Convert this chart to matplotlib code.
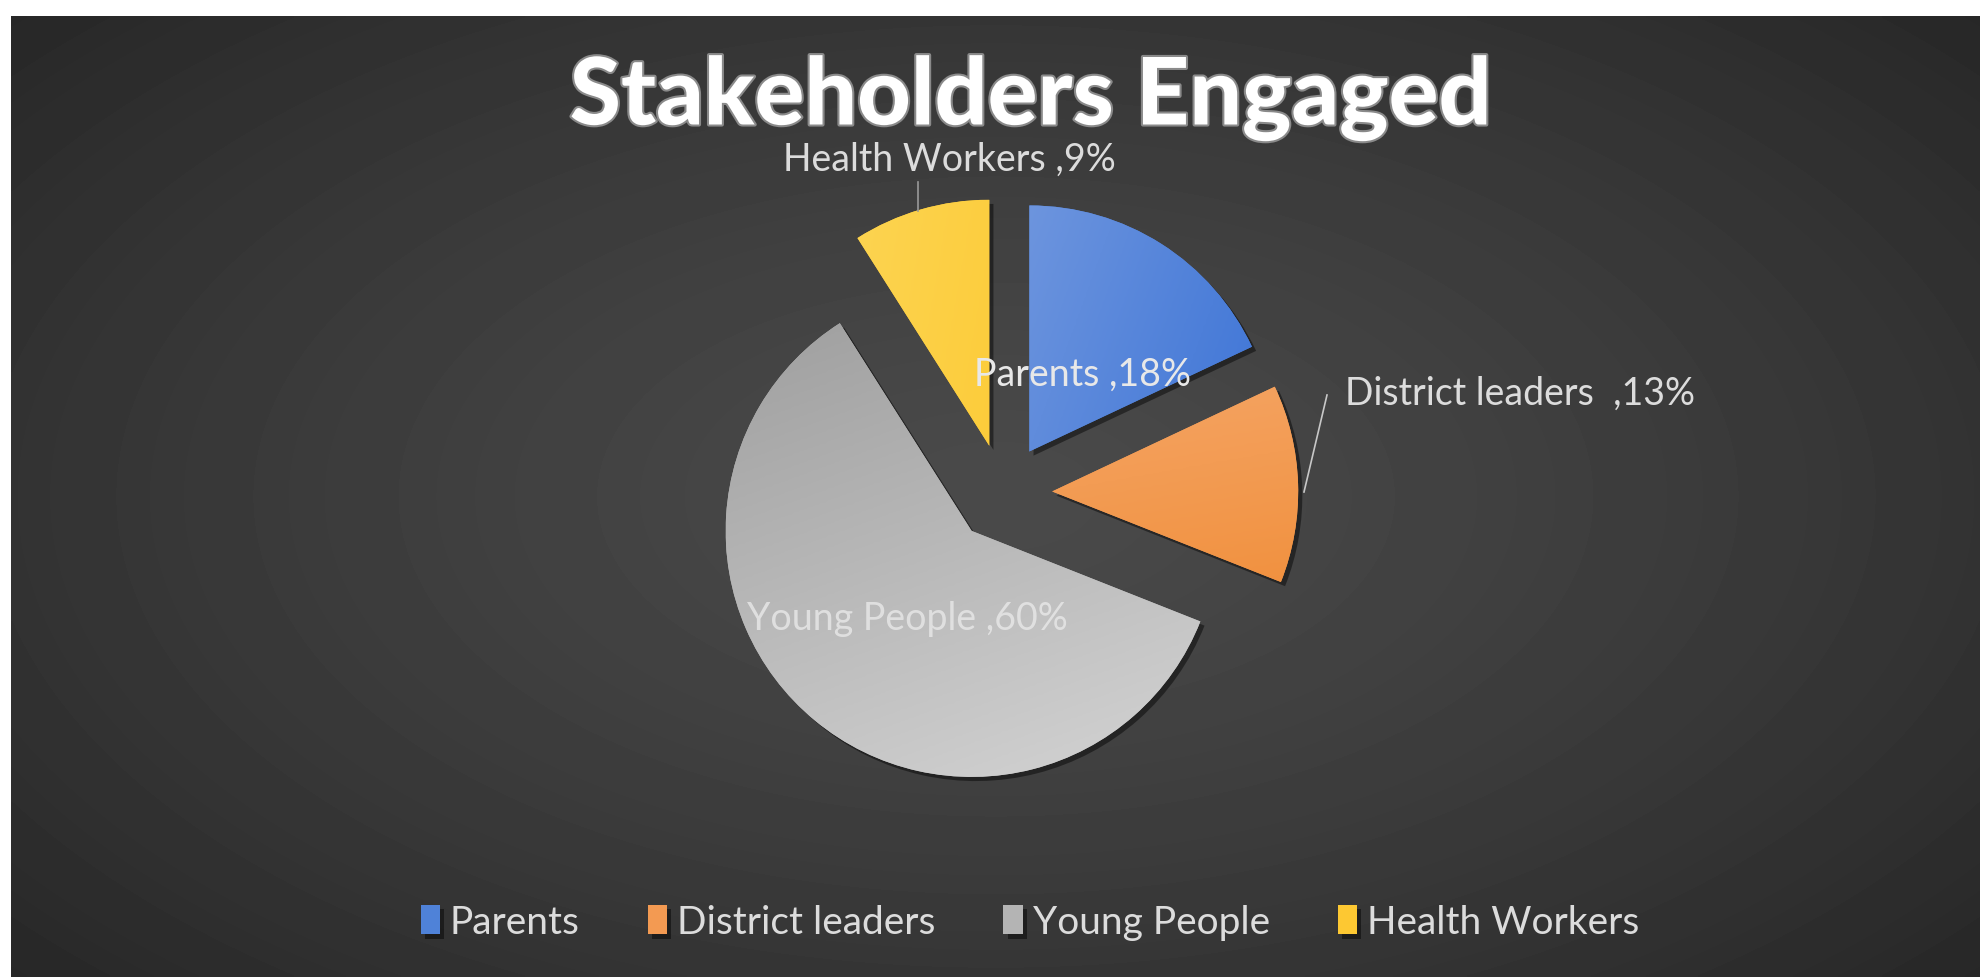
import numpy as np
import matplotlib
matplotlib.use('Agg')
import matplotlib.pyplot as plt
from matplotlib import patheffects as pe
from matplotlib.colors import LinearSegmentedColormap
from matplotlib.lines import Line2D

# ---- data ----
categories = ['Parents', 'District leaders', 'Young People', 'Health Workers']
values = [18, 13, 60, 9]
label_texts = ['Parents ,18%', 'District leaders  ,13%', 'Young People ,60%', 'Health Workers ,9%']
title_text = 'Stakeholders Engaged'

base_colors = ['#4f82d8', '#f39a52', '#b4b4b4', '#fdc832']
light_colors = ['#86a6e2', '#f6b07a', '#a2a2a2', '#fdd75a']
dark_colors = ['#3a72d6', '#f0882e', '#cecece', '#fcc21c']
grad_angles = [np.deg2rad(-20), np.deg2rad(-80), np.deg2rad(-70), np.deg2rad(-10)]

W, H = 1981, 978
fig = plt.figure(figsize=(W / 100, H / 100), dpi=100, facecolor='white')

# ---- background with vignette ----
bg = fig.add_axes([11 / W, 0, (W - 11) / W, (H - 17) / H])
ny, nx = 300, 600
yy, xx = np.mgrid[0:1:ny * 1j, 0:1:nx * 1j]
r = np.sqrt(((xx - 0.5) / 0.5) ** 2 + ((yy - 0.5) / 0.55) ** 2)
t = np.clip(r / 1.35, 0, 1)
val = 0.29 - (0.29 - 0.155) * t ** 1.3
bg.imshow(val, cmap='gray', vmin=0, vmax=1, extent=[0, 1, 0, 1], aspect='auto',
          interpolation='bilinear', origin='lower')
bg.axis('off')

# ---- pie ----
cxp, cyp, half = 1003, 494, 369
ax = fig.add_axes([(cxp - half) / W, (H - cyp - half) / H, 2 * half / W, 2 * half / H])
ax.patch.set_alpha(0)
wedges, _ = ax.pie(values, colors=base_colors, startangle=90, counterclock=False,
                   explode=[0.2] * len(values), radius=1,
                   wedgeprops=dict(linewidth=0))
for w, c0, c1, ang in zip(wedges, light_colors, dark_colors, grad_angles):
    w.set_path_effects([pe.SimplePatchShadow(offset=(3, -3), shadow_rgbFace='black', alpha=0.45),
                        pe.Normal()])
    cxw, cyw = w.center
    rr = w.r
    n = 200
    gy, gx = np.mgrid[-1:1:n * 1j, -1:1:n * 1j]
    d = gx * np.cos(ang) + gy * np.sin(ang)
    tt = (d + 1) / 2
    cmap = LinearSegmentedColormap.from_list('g', [c0, c1])
    im = ax.imshow(tt, cmap=cmap, vmin=0, vmax=1,
                   extent=[cxw - rr, cxw + rr, cyw - rr, cyw + rr], origin='lower',
                   interpolation='bilinear', zorder=w.get_zorder() + 0.1)
    im.set_clip_path(w)
ax.set_xlim(-1.5, 1.5)
ax.set_ylim(-1.5, 1.5)
ax.set_aspect('equal')
ax.axis('off')

label_font = ['Lato', 'DejaVu Sans']
txt_color = '#dcdcdc'
fs = 27

# ---- data labels ----
fig.text(1083 / W, 1 - 375 / H, label_texts[0], ha='center', va='center', fontsize=fs,
         family=label_font, color='#e8e8e8')
fig.text(1345 / W, 1 - 394 / H, label_texts[1], ha='left', va='center', fontsize=fs,
         family=label_font, color=txt_color)
fig.text(907 / W, 1 - 619 / H, label_texts[2], ha='center', va='center', fontsize=fs,
         family=label_font, color='#e6e6e6', alpha=0.85)
fig.text(949 / W, 1 - 160 / H, label_texts[3], ha='center', va='center', fontsize=fs,
         family=label_font, color=txt_color)

# leader lines
fig.add_artist(Line2D([918 / W, 918 / W], [1 - 183 / H, 1 - 212 / H], transform=fig.transFigure,
                      color='#9a9a9a', lw=1.2))
fig.add_artist(Line2D([1327 / W, 1304 / W], [1 - 396 / H, 1 - 493 / H], transform=fig.transFigure,
                      color='#c8c8c8', lw=1.2))

# ---- title ----
fig.text(1030 / W, 1 - 99 / H, title_text, ha='center', va='center', fontsize=67,
         fontweight='black', family=['Lato', 'DejaVu Sans'], color='white',
         path_effects=[pe.withStroke(linewidth=3, foreground='#8a8a8a')])

# ---- legend ----
leg = fig.legend(wedges, categories, loc='center', bbox_to_anchor=(1030 / W, 1 - 923 / H),
                 ncol=4, frameon=False, handlelength=0.5, handleheight=0.8,
                 handletextpad=0.25, columnspacing=1.75,
                 prop={'family': label_font, 'size': 28}, labelcolor=txt_color)

fig.savefig('out.png', dpi=100, facecolor='white')
